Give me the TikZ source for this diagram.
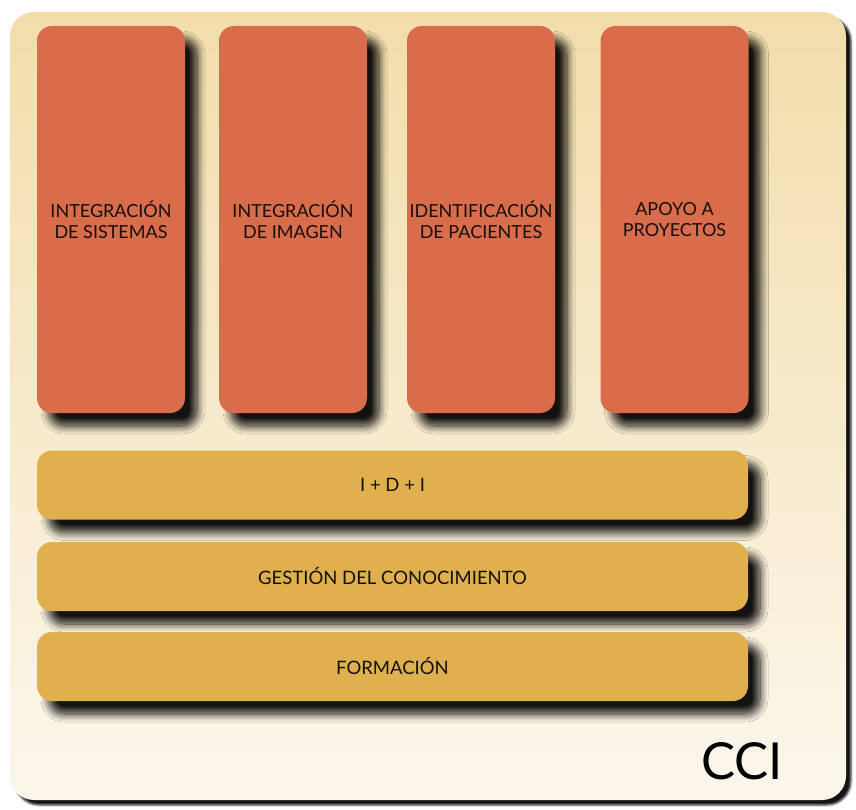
\documentclass[tikz,border=0pt]{standalone}
\usepackage{fontspec}
\setmainfont{Lato}
\usetikzlibrary{shadows.blur}
\definecolor{areared}{RGB}{217,108,75}
\definecolor{baseyellow}{RGB}{224,175,78}
\definecolor{bgtop}{RGB}{242,221,170}
\definecolor{bgbottom}{RGB}{252,247,236}
\definecolor{inktext}{RGB}{20,16,12}

\begin{document}
\begin{tikzpicture}[x=1pt,y=-1pt,
  areabox/.style={fill=areared, rounded corners=15pt, minimum width=148pt, minimum height=387pt, inner xsep=0pt,
    align=center, text=inktext, font=\fontsize{18}{20.5}\selectfont,
    blur shadow={shadow xshift=12pt, shadow yshift=-13pt, shadow blur radius=8pt, shadow opacity=92, shadow blur steps=10}},
  basebar/.style={fill=baseyellow, rounded corners=15pt, minimum width=711pt, minimum height=69pt,
    text=inktext, font=\fontsize{18.5}{20}\selectfont,
    blur shadow={shadow xshift=12pt, shadow yshift=-13pt, shadow blur radius=8pt, shadow opacity=92, shadow blur steps=10}}]
\useasboundingbox (0,0) rectangle (856,810);

% CCI background panel
\node[top color=bgtop, bottom color=bgbottom, rounded corners=24pt, minimum width=836pt, minimum height=788pt,
  blur shadow={shadow xshift=5pt, shadow yshift=-5pt, shadow blur radius=2pt, shadow opacity=92, shadow blur steps=4}]
  (panel) at (428,406) {};

% Vertical areas
\node[areabox] (sistemas) at (111,219.5) {INTEGRACIÓN\\DE SISTEMAS};
\node[areabox] (imagen) at (293,219.5) {INTEGRACIÓN\\DE IMAGEN};
\node[areabox] (pacientes) at (481,219.5) {IDENTIFICACIÓN\\DE PACIENTES};
\node[areabox] (proyectos) at (674.5,219.5) {APOYO A\\PROYECTOS};

% Horizontal base layers
\node[basebar] (idi) at (392.5,485) {I + D + I};
\node[basebar] (gestion) at (392.5,576.5) {GESTIÓN DEL CONOCIMIENTO};
\node[basebar] (formacion) at (392.5,666.5) {FORMACIÓN};

% Label
\node[font=\fontsize{51}{51}\selectfont, text=black] (cci) at (742,761) {CCI};
\end{tikzpicture}
\end{document}
